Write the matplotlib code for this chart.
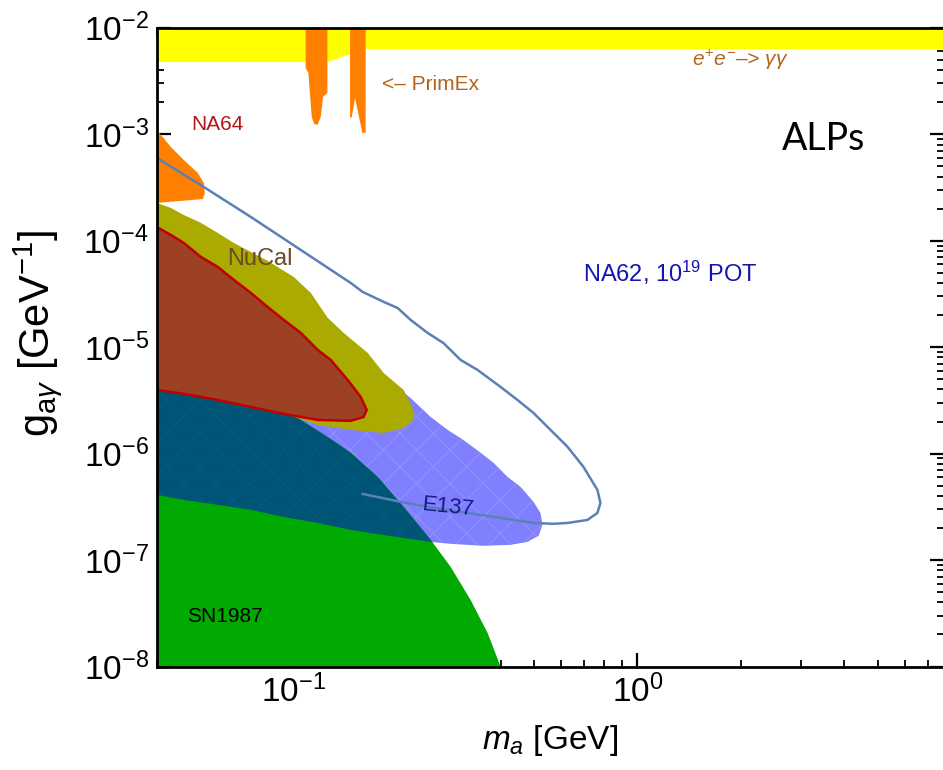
import matplotlib
matplotlib.use("Agg")
import matplotlib.pyplot as plt
from matplotlib.ticker import LogLocator, NullFormatter

plt.rcParams['font.family'] = ['Liberation Sans', 'DejaVu Sans']
plt.rcParams['mathtext.fontset'] = 'custom'
plt.rcParams['mathtext.rm'] = 'Liberation Sans'
plt.rcParams['mathtext.it'] = 'Liberation Sans:italic'
plt.rcParams['mathtext.bf'] = 'Liberation Sans:bold'
plt.rcParams['hatch.linewidth'] = 0.5

M_MIN, M_MAX = 0.04, 7.8
G_MIN, G_MAX = 1e-8, 1e-2

# e+e- -> gamma gamma, lower edge of the excluded band
ee_m = [0.04, 0.1253, 0.1458, 0.1619, 7.8]
ee_g = [4.76e-3, 4.76e-3, 5.66e-3, 6.31e-3, 6.31e-3]

# PrimEx, two narrow excluded windows
primex1_m = [0.1083, 0.1083, 0.1103, 0.1128, 0.1146, 0.1172, 0.1198, 0.1217, 0.1253, 0.1253]
primex1_g = [1e-2, 4.18e-3, 3.75e-3, 1.45e-3, 1.25e-3, 1.22e-3, 1.45e-3, 2.24e-3, 2.44e-3, 1e-2]
primex2_m = [0.1458, 0.1458, 0.1475, 0.1508, 0.1583, 0.1619, 0.1619]
primex2_g = [1e-2, 1.42e-3, 1.45e-3, 2.19e-3, 1.03e-3, 1.03e-3, 1e-2]

# NA64
na64_m = [0.04, 0.04388, 0.04788, 0.05258, 0.05474, 0.05511, 0.05438, 0.04]
na64_g = [1.09e-3, 7.58e-4, 5.72e-4, 4.32e-4, 3.48e-4, 2.80e-4, 2.46e-4, 2.26e-4]

# NuCal
nucal_m = [0.04, 0.04388, 0.04788, 0.05366, 0.06013, 0.06693, 0.07499, 0.08400,
           0.1000, 0.1121, 0.1256, 0.1397, 0.1641, 0.1826, 0.2088, 0.2233, 0.2233,
           0.2088, 0.1826, 0.1464, 0.1174, 0.09801, 0.07499, 0.04]
nucal_g = [2.26e-4, 2.03e-4, 1.74e-4, 1.47e-4, 1.18e-4, 9.51e-5, 7.83e-5, 6.45e-5,
           4.56e-5, 3.23e-5, 1.88e-5, 1.36e-5, 8.82e-6, 5.72e-6, 3.96e-6, 2.57e-6, 2.07e-6,
           1.74e-6, 1.56e-6, 1.67e-6, 1.86e-6, 2.26e-6, 3.19e-6, 4.92e-6]

# beam dump region with red outline
bd_m = [0.04, 0.04388, 0.04788, 0.05366, 0.06013, 0.06693, 0.07499, 0.08400, 0.09352,
        0.1048, 0.1174, 0.1281, 0.1435, 0.1566, 0.1630, 0.1598, 0.1464, 0.1174,
        0.09352, 0.07499, 0.06013, 0.04788, 0.04]
bd_g = [1.34e-4, 1.13e-4, 9.51e-5, 7.03e-5, 5.66e-5, 4.28e-5, 3.23e-5, 2.38e-5, 1.80e-5,
        1.36e-5, 9.41e-6, 7.58e-6, 4.92e-6, 3.41e-6, 2.57e-6, 2.21e-6, 2.03e-6, 2.07e-6,
        2.36e-6, 2.74e-6, 3.19e-6, 3.64e-6, 3.96e-6]

# E137
e137_m = [0.04, 0.07499, 0.1281, 0.1674, 0.1914, 0.2218, 0.2502, 0.2804, 0.3120, 0.3496,
          0.3814, 0.4189, 0.4569, 0.4984, 0.5224, 0.5295, 0.5157, 0.4788, 0.4274, 0.3566,
          0.2861, 0.2502, 0.1826, 0.1464, 0.1174, 0.09352, 0.07499, 0.06013, 0.04788, 0.04]
e137_g = [1.45e-5, 1.05e-5, 7.26e-6, 5.85e-6, 4.82e-6, 3.19e-6, 2.21e-6, 1.67e-6, 1.34e-6,
          1.02e-6, 8.18e-7, 6.04e-7, 4.87e-7, 3.52e-7, 2.77e-7, 2.14e-7, 1.69e-7, 1.48e-7,
          1.39e-7, 1.36e-7, 1.42e-7, 1.48e-7, 1.72e-7, 1.92e-7, 2.23e-7, 2.54e-7, 2.96e-7,
          3.30e-7, 3.67e-7, 4.09e-7]

# SN1987A cooling, upper edge
sn_m = [0.04, 0.0656, 0.1027, 0.1256, 0.1464, 0.1754, 0.2088, 0.2502, 0.2861, 0.3269,
        0.3664, 0.3997]
sn_g = [4.42e-6, 3.33e-6, 2.16e-6, 1.43e-6, 1.02e-6, 6.04e-7, 3.16e-7, 1.55e-7, 8.63e-8,
        4.23e-8, 2.07e-8, 1.0e-8]

# NA62 projected sensitivity, 1e19 POT
na62_m = [0.04, 0.05474, 0.07499, 0.1048, 0.1464, 0.1587, 0.1826, 0.2006, 0.2189, 0.2452,
          0.2729, 0.3058, 0.3426, 0.3997, 0.4478, 0.4984, 0.5586, 0.6259, 0.6966, 0.7650,
          0.7806, 0.7650, 0.7156, 0.6259, 0.5699, 0.4984, 0.3997, 0.3204, 0.2553, 0.2047,
          0.1587]
na62_g = [5.98e-4, 3.19e-4, 1.67e-4, 8.18e-5, 4.01e-5, 3.30e-5, 2.66e-5, 2.33e-5, 1.80e-5,
          1.36e-5, 1.09e-5, 7.58e-6, 6.11e-6, 4.23e-6, 3.19e-6, 2.41e-6, 1.67e-6, 1.16e-6,
          7.50e-7, 4.56e-7, 3.44e-7, 2.77e-7, 2.38e-7, 2.23e-7, 2.19e-7, 2.23e-7, 2.49e-7,
          2.77e-7, 3.09e-7, 3.52e-7, 4.18e-7]


def draw_regions(ax):
    e137 = ax.fill(e137_m, e137_g, facecolor='#8080ff', edgecolor='#9898ff',
                   linewidth=0, hatch='x', zorder=1)[0]
    ax.fill(sn_m + [M_MIN], sn_g + [G_MIN], facecolor='#00aa00', linewidth=0, zorder=2)
    # overlap of SN1987 and E137
    overlap = ax.fill(sn_m + [M_MIN], sn_g + [G_MIN], facecolor='#005577',
                      edgecolor='#085e7e', linewidth=0, hatch='x', zorder=3)[0]
    overlap.set_clip_path(e137)

    ax.fill(nucal_m, nucal_g, facecolor='#aaaa00', linewidth=0, zorder=4)
    ax.fill(bd_m, bd_g, facecolor='#9d4125', edgecolor='#c00000', linewidth=1.8, zorder=5)

    ax.fill_between(ee_m, ee_g, G_MAX, facecolor='#ffff00', linewidth=0, zorder=4)
    ax.fill(primex1_m, primex1_g, facecolor='#ff8000', linewidth=0, zorder=5)
    ax.fill(primex2_m, primex2_g, facecolor='#ff8000', linewidth=0, zorder=5)
    ax.fill(na64_m, na64_g, facecolor='#ff8000', linewidth=0, zorder=6)

    ax.plot(na62_m, na62_g, color='#5b80b6', linewidth=1.8, zorder=7)


def draw_labels(ax):
    kw = dict(transform=ax.transAxes, va='baseline', zorder=10)
    ax.text(0.0441, 0.840, 'NA64', color='#b01818', fontsize=15, **kw)
    ax.text(0.2856, 0.9025, '<\u2013 PrimEx', color='#b0651e', fontsize=15, **kw)
    ax.text(0.6795, 0.9405, r'$e^{+}e^{-}$' + '\u2013> ' + r'$\gamma\gamma$',
            color='#b0651e', fontsize=15, style='italic', **kw)
    ax.text(0.7939, 0.809, 'ALPs', fontsize=27, family=['Lato', 'DejaVu Sans'], **kw)
    ax.text(0.0886, 0.6285, 'NuCal', color='#6b4a26', fontsize=17, **kw)
    ax.text(0.5417, 0.6019, r'NA62, 10$^{19}$ POT', color='#1414b4', fontsize=17, **kw)
    ax.text(0.0377, 0.0701, 'SN1987', color='black', fontsize=15, **kw)
    ax.text(0.3698, 0.2497, 'E137', color='#18188c', fontsize=16, rotation=-6,
            ha='center', va='center', rotation_mode='anchor',
            transform=ax.transAxes, zorder=10)


def style_axes(ax):
    ax.set_xscale('log')
    ax.set_yscale('log')
    ax.set_xlim(M_MIN, M_MAX)
    ax.set_ylim(G_MIN, G_MAX)
    for axis in (ax.xaxis, ax.yaxis):
        axis.set_major_locator(LogLocator(base=10, numticks=20))
        axis.set_minor_locator(LogLocator(base=10, subs=range(2, 10), numticks=20))
        axis.set_minor_formatter(NullFormatter())
    ax.tick_params(which='both', direction='in', top=True, right=True,
                   labelsize=24, width=1.6, colors='black')
    ax.tick_params(which='major', length=10, pad=6)
    ax.tick_params(which='minor', length=5, width=1.3)
    for spine in ax.spines.values():
        spine.set_linewidth(2.0)
        spine.set_zorder(20)

    ax.set_xlabel(r'$m_a$ [GeV]', fontsize=24)
    ax.xaxis.set_label_coords(0.5, -0.088)
    ax.set_ylabel(r'g$_{\mathrm{a}\gamma}$ [GeV$^{-1}$]', fontsize=30)
    ax.yaxis.set_label_coords(-0.118, 0.522)


def main():
    fig = plt.figure(figsize=(9.43, 7.7), dpi=100)
    ax = fig.add_axes([0.1665, 0.1344, 1.001 - 0.1665, 0.964 - 0.1344])
    draw_regions(ax)
    draw_labels(ax)
    style_axes(ax)
    fig.savefig('out.png', dpi=100)


if __name__ == "__main__":
    main()
